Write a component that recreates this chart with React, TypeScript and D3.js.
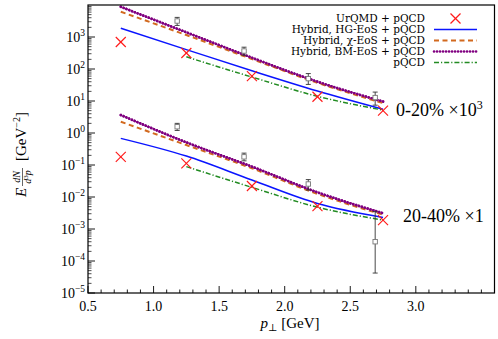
import React from "react";
import * as d3 from "d3";

const W = 498, H = 339;
const M = { left: 88, right: 494.5, top: 5, bottom: 293 };

// x grid for model curves
const modelPt = [0.75, 1.25, 1.75, 2.25, 2.75];
const pqcdPt = [1.25, 1.75, 2.25, 2.75];

// 0-20% (x10^3)
const urqmd020 = [700, 316, 60, 13.6, 5.0];
const hg020 = [1870, 404, 88, 20.5, 5.5];
const chi020 = [6150, 1150, 205, 37, 8.6];
const bm020 = [8800, 1400, 225, 40, 9.6];
const pqcd020 = [240, 56, 14, 5.2];
const dataX = [1.18, 1.69, 2.18, 2.69];
const data020 = [3160, 365, 50, 12.8];
const data020Lo = [2300, 270, 33, 7.4];
const data020Hi = [4100, 480, 72, 19];

// 20-40% (x1)
const urqmd2040 = [0.18, 0.113, 0.022, 0.0052, 0.0019];
const hg2040 = [0.68, 0.19, 0.034, 0.0063, 0.0023];
const chi2040 = [2.25, 0.42, 0.079, 0.0125, 0.0028];
const bm2040 = [3.65, 0.51, 0.089, 0.014, 0.0031];
const pqcd2040 = [0.089, 0.02, 0.0048, 0.0019];
const data2040 = [1.57, 0.18, 0.0255, 0.0004];
const data2040Lo = [1.2, 0.135, 0.0165, 0.000042];
const data2040Hi = [2.0, 0.235, 0.035, 0.0035];

const xTicks = [0.5, 1.0, 1.5, 2.0, 2.5, 3.0];
const yExps = [-5, -4, -3, -2, -1, 0, 1, 2, 3];

const legendLabels = [
  "UrQMD + pQCD",
  "Hybrid, HG-EoS + pQCD",
  "Hybrid, \u03c7-EoS + pQCD",
  "Hybrid, BM-EoS + pQCD",
  "pQCD",
];

const FONT = "'Liberation Serif', 'DejaVu Serif', serif";
const LEGFONT = "'DejaVu Serif', 'Liberation Serif', serif";

const styles = {
  hg: { stroke: "#0a14ff", width: 1.5, dash: undefined as string | undefined, cap: "butt" },
  chi: { stroke: "#d2691e", width: 2, dash: "5,3.5", cap: "butt" },
  bm: { stroke: "#800080", width: 2.6, dash: "0.1,2.9", cap: "round" },
  pqcd: { stroke: "#228b22", width: 1.5, dash: "5,2,1.2,2", cap: "butt" },
};

export default function App() {
  const x = d3.scaleLinear().domain([0.5, 3.6]).range([M.left, M.right]);
  const y = d3.scaleLog().domain([1e-5, 1e4]).range([M.bottom, M.top]);

  const line = d3
    .line<[number, number]>()
    .x((d) => x(d[0]))
    .y((d) => y(d[1]))
    .curve(d3.curveMonotoneX);

  const path = (xs: number[], ys: number[]) =>
    line(xs.map((v, i) => [v, ys[i]] as [number, number])) || "";

  const curve = (key: keyof typeof styles, xs: number[], ys: number[], k: string) => {
    const s = styles[key];
    return (
      <path
        key={k}
        d={path(xs, ys)}
        fill="none"
        stroke={s.stroke}
        strokeWidth={s.width}
        strokeDasharray={s.dash}
        strokeLinecap={s.cap as any}
      />
    );
  };

  const cross = (cx: number, cy: number, k: string, r = 5) => (
    <g key={k} stroke="#ff1a1a" strokeWidth={1.2}>
      <line x1={cx - r} y1={cy - r} x2={cx + r} y2={cy + r} />
      <line x1={cx - r} y1={cy + r} x2={cx + r} y2={cy - r} />
    </g>
  );

  const dataPts = (ys: number[], lo: number[], hi: number[], k: string) =>
    dataX.map((xv, i) => {
      const cx = x(xv);
      const cy = y(ys[i]);
      const y1 = y(hi[i]);
      const y2 = y(lo[i]);
      return (
        <g key={k + i}>
          <line x1={cx} x2={cx} y1={y1} y2={y2} stroke="#333" strokeWidth={0.9} />
          <line x1={cx - 2.5} x2={cx + 2.5} y1={y1} y2={y1} stroke="#333" strokeWidth={0.9} />
          <line x1={cx - 2.5} x2={cx + 2.5} y1={y2} y2={y2} stroke="#333" strokeWidth={0.9} />
          <rect x={cx - 2.2} y={cy - 2.2} width={4.4} height={4.4} fill="white" stroke="#777" strokeWidth={0.9} />
        </g>
      );
    });

  // minor ticks
  const xMinor = d3.range(5, 36).map((v) => v / 10);
  const yMinor: number[] = [];
  for (let e = -5; e < 4; e++) for (let m = 2; m <= 9; m++) yMinor.push(m * Math.pow(10, e));

  const legX1 = 434, legX2 = 477, legTextX = 425;
  const legY = (i: number) => 18.5 + i * 11;

  return (
    <svg width={W} height={H} style={{ position: "absolute", left: 0, top: 0, background: "white" }} fontFamily={FONT}>
      <rect x={0} y={0} width={W} height={H} fill="white" />
      {/* curves */}
      {curve("bm", modelPt, bm020, "bm1")}
      {curve("chi", modelPt, chi020, "chi1")}
      {curve("hg", modelPt, hg020, "hg1")}
      {curve("pqcd", pqcdPt, pqcd020, "pq1")}
      {curve("chi", modelPt, chi2040, "chi2")}
      {curve("bm", modelPt, bm2040, "bm2")}
      {curve("hg", modelPt, hg2040, "hg2")}
      {curve("pqcd", pqcdPt, pqcd2040, "pq2")}
      {/* re-draw purple dots over orange */}
      {curve("bm", modelPt, bm020, "bm1b")}
      {curve("bm", modelPt, bm2040, "bm2b")}
      {dataPts(data020, data020Lo, data020Hi, "d1")}
      {dataPts(data2040, data2040Lo, data2040Hi, "d2")}
      {modelPt.map((v, i) => cross(x(v), y(urqmd020[i]), "c1" + i))}
      {modelPt.map((v, i) => cross(x(v), y(urqmd2040[i]), "c2" + i))}

      {/* axes frame */}
      <rect x={M.left} y={M.top} width={M.right - M.left} height={M.bottom - M.top} fill="none" stroke="#000" strokeWidth={1.2} />
      {xMinor.map((v) => {
        const major = xTicks.some((t) => Math.abs(t - v) < 1e-6);
        return <line key={"xm" + v} x1={x(v)} x2={x(v)} y1={M.bottom} y2={M.bottom - (major ? 7 : 3.5)} stroke="#000" strokeWidth={0.9} />;
      })}
      {xTicks.map((v) => (
        <text key={"xt" + v} x={x(v)} y={311} fontSize={14} textAnchor="middle">
          {v.toFixed(1)}
        </text>
      ))}
      {yExps.map((e) => (
        <line key={"yM" + e} x1={M.left} x2={M.left + 7} y1={y(Math.pow(10, e))} y2={y(Math.pow(10, e))} stroke="#000" strokeWidth={0.9} />
      ))}
      {yMinor.map((v, i) => (
        <line key={"ym" + i} x1={M.left} x2={M.left + 3.5} y1={y(v)} y2={y(v)} stroke="#000" strokeWidth={0.7} />
      ))}
      {yExps.map((e) => (
        <text key={"yt" + e} x={85} y={y(Math.pow(10, e)) + 5} fontSize={14} textAnchor="end">
          10
          <tspan dy={-6} fontSize={9.5}>
            {e < 0 ? "\u2212" + Math.abs(e) : String(e)}
          </tspan>
        </text>
      ))}

      {/* x label */}
      <text x={290} y={328} fontSize={15} textAnchor="middle">
        <tspan fontStyle="italic">p</tspan>
        <tspan fontSize={10} dy={3}>{"\u22a5"}</tspan>
        <tspan dy={-3}>{" [GeV]"}</tspan>
      </text>

      {/* y label */}
      <g transform="translate(26,147) rotate(-90)">
        <text x={-50} y={0} fontSize={15} fontStyle="italic">E</text>
        <text x={-30} y={-6} fontSize={10} fontStyle="italic" textAnchor="middle">dN</text>
        <line x1={-39} x2={-21} y1={-3.5} y2={-3.5} stroke="#000" strokeWidth={0.6} />
        <text x={-30} y={5} fontSize={10} textAnchor="middle">
          <tspan fontStyle="italic">d</tspan>
          <tspan fontSize={7} dy={-3}>3</tspan>
          <tspan fontStyle="italic" dy={3}>p</tspan>
        </text>
        <text x={-14} y={0} fontSize={15}>
          [GeV
          <tspan fontSize={10} dy={-6}>{"\u22122"}</tspan>
          <tspan dy={6}>]</tspan>
        </text>
      </g>

      {/* annotations */}
      <text x={396} y={116} fontSize={18}>
        0-20% {"\u00d7"}10<tspan fontSize={12} dy={-7}>3</tspan>
      </text>
      <text x={403} y={222} fontSize={18}>
        20-40% {"\u00d7"}1
      </text>

      {/* legend */}
      {legendLabels.map((lab, i) => (
        <text key={"lg" + i} x={legTextX} y={legY(i) + 3.5} fontSize={10.5} textAnchor="end" fontFamily={LEGFONT}>
          {lab}
        </text>
      ))}
      {cross((legX1 + legX2) / 2, legY(0), "lgc")}
      {(["hg", "chi", "bm", "pqcd"] as (keyof typeof styles)[]).map((k, i) => {
        const s = styles[k];
        return (
          <line
            key={"ll" + k}
            x1={legX1}
            x2={legX2}
            y1={legY(i + 1)}
            y2={legY(i + 1)}
            stroke={s.stroke}
            strokeWidth={s.width}
            strokeDasharray={s.dash}
            strokeLinecap={s.cap as any}
          />
        );
      })}
    </svg>
  );
}
